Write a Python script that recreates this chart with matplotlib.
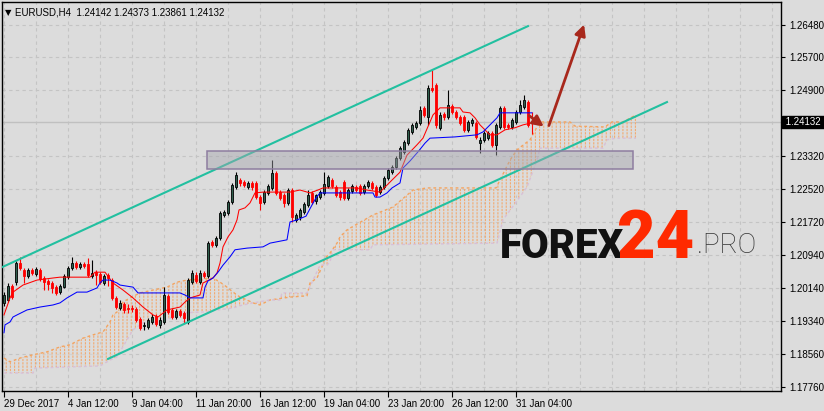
import numpy as np
import matplotlib.pyplot as plt
from matplotlib.patches import Rectangle, FancyArrowPatch
from matplotlib.transforms import blended_transform_factory

# EURUSD H4 candles (bar 0 = 29 Dec 2017)
opens = [1.1978, 1.1985, 1.2019, 1.2028, 1.2074, 1.2057, 1.2043, 1.2057, 1.2048, 1.2057,
         1.2038, 1.2031, 1.2026, 1.2016, 1.2004, 1.2016, 1.2040, 1.2062, 1.2074, 1.2065,
         1.2072, 1.2072, 1.2043, 1.2052, 1.2048, 1.2026, 1.2045, 1.2033, 1.1990, 1.1966,
         1.1975, 1.1966, 1.1966, 1.1963, 1.1939, 1.1922, 1.1920, 1.1932, 1.1946, 1.1925,
         1.1932, 1.1995, 1.1961, 1.1944, 1.1958, 1.1954, 1.1932, 1.2028, 1.2045, 1.2028,
         1.2050, 1.2043, 1.2125, 1.2118, 1.2134, 1.2190, 1.2195, 1.2221, 1.2257, 1.2274,
         1.2269, 1.2257, 1.2267, 1.2267, 1.2233, 1.2221, 1.2243, 1.2255, 1.2291, 1.2245,
         1.2238, 1.2219, 1.2250, 1.2178, 1.2185, 1.2197, 1.2214, 1.2243, 1.2224, 1.2233,
         1.2243, 1.2260, 1.2274, 1.2257, 1.2245, 1.2269, 1.2231, 1.2248, 1.2257, 1.2260,
         1.2245, 1.2260, 1.2267, 1.2257, 1.2245, 1.2257, 1.2279, 1.2293, 1.2305, 1.2327,
         1.2342, 1.2363, 1.2390, 1.2402, 1.2412, 1.2448, 1.2426, 1.2496, 1.2503, 1.2400,
         1.2433, 1.2426, 1.2453, 1.2438, 1.2426, 1.2426, 1.2395, 1.2412, 1.2412, 1.2363,
         1.2371, 1.2375, 1.2387, 1.2359, 1.2402, 1.2448, 1.2407, 1.2402, 1.2414, 1.2438,
         1.2450, 1.2462, 1.24142]
highs = [1.2004, 1.2026, 1.2024, 1.2079, 1.2089, 1.2062, 1.2062, 1.2062, 1.2065, 1.2062,
         1.2043, 1.2036, 1.2031, 1.2021, 1.2024, 1.2048, 1.2067, 1.2089, 1.2079, 1.2077,
         1.2077, 1.2086, 1.2081, 1.2057, 1.2052, 1.2048, 1.2050, 1.2038, 1.1995, 1.1985,
         1.1980, 1.1975, 1.1973, 1.1968, 1.1944, 1.1932, 1.1942, 1.1951, 1.1951, 1.1944,
         1.2016, 1.1999, 1.1966, 1.1963, 1.1963, 1.1958, 1.2038, 1.2057, 1.2052, 1.2057,
         1.2055, 1.2127, 1.2130, 1.2139, 1.2199, 1.2202, 1.2226, 1.2267, 1.2293, 1.2279,
         1.2274, 1.2272, 1.2272, 1.2272, 1.2238, 1.2250, 1.2264, 1.2322, 1.2296, 1.2250,
         1.2243, 1.2255, 1.2255, 1.2195, 1.2207, 1.2221, 1.2250, 1.2248, 1.2240, 1.2250,
         1.2293, 1.2286, 1.2279, 1.2262, 1.2250, 1.2274, 1.2255, 1.2264, 1.2262, 1.2264,
         1.2264, 1.2274, 1.2272, 1.2262, 1.2262, 1.2284, 1.2303, 1.2310, 1.2332, 1.2356,
         1.2371, 1.2400, 1.2412, 1.2416, 1.2453, 1.2453, 1.2503, 1.2539, 1.2508, 1.2438,
         1.2438, 1.2491, 1.2457, 1.2443, 1.2431, 1.2431, 1.2419, 1.2424, 1.2416, 1.2378,
         1.2392, 1.2392, 1.2392, 1.2412, 1.2453, 1.2453, 1.2412, 1.2424, 1.2443, 1.2467,
         1.2479, 1.2467, 1.24373]
lows = [1.1971, 1.1980, 1.1987, 1.2021, 1.2057, 1.2026, 1.2038, 1.2045, 1.2043, 1.2031,
        1.2009, 1.2009, 1.2002, 1.1997, 1.1999, 1.2014, 1.2036, 1.2057, 1.2060, 1.2060,
        1.2062, 1.2040, 1.2038, 1.2021, 1.2024, 1.2021, 1.2019, 1.1985, 1.1963, 1.1961,
        1.1954, 1.1954, 1.1956, 1.1932, 1.1913, 1.1913, 1.1915, 1.1927, 1.1922, 1.1918,
        1.1927, 1.1951, 1.1939, 1.1939, 1.1944, 1.1930, 1.1927, 1.2024, 1.2026, 1.2024,
        1.2038, 1.2038, 1.2113, 1.2113, 1.2130, 1.2185, 1.2190, 1.2216, 1.2252, 1.2260,
        1.2257, 1.2252, 1.2250, 1.2228, 1.2202, 1.2216, 1.2238, 1.2250, 1.2238, 1.2226,
        1.2209, 1.2214, 1.2173, 1.2173, 1.2178, 1.2192, 1.2209, 1.2216, 1.2216, 1.2228,
        1.2238, 1.2255, 1.2255, 1.2233, 1.2226, 1.2226, 1.2226, 1.2243, 1.2245, 1.2238,
        1.2240, 1.2255, 1.2250, 1.2233, 1.2240, 1.2252, 1.2274, 1.2289, 1.2301, 1.2322,
        1.2337, 1.2359, 1.2385, 1.2397, 1.2407, 1.2426, 1.2407, 1.2486, 1.2400, 1.2395,
        1.2419, 1.2421, 1.2433, 1.2421, 1.2407, 1.2390, 1.2390, 1.2404, 1.2373, 1.2339,
        1.2366, 1.2371, 1.2354, 1.2334, 1.2397, 1.2397, 1.2397, 1.2397, 1.2409, 1.2433,
        1.2445, 1.2402, 1.23861]
closes = [1.1997, 1.2019, 1.1992, 1.2074, 1.2062, 1.2043, 1.2057, 1.2050, 1.2060, 1.2036,
          1.2028, 1.2024, 1.2014, 1.2002, 1.2019, 1.2043, 1.2062, 1.2074, 1.2065, 1.2072,
          1.2067, 1.2045, 1.2050, 1.2045, 1.2028, 1.2043, 1.2038, 1.1990, 1.1968, 1.1978,
          1.1961, 1.1963, 1.1963, 1.1937, 1.1918, 1.1925, 1.1937, 1.1944, 1.1927, 1.1937,
          1.1997, 1.1956, 1.1944, 1.1958, 1.1949, 1.1942, 1.2033, 1.2050, 1.2031, 1.2050,
          1.2043, 1.2122, 1.2118, 1.2134, 1.2195, 1.2197, 1.2221, 1.2262, 1.2286, 1.2267,
          1.2262, 1.2267, 1.2257, 1.2233, 1.2219, 1.2245, 1.2260, 1.2291, 1.2243, 1.2231,
          1.2219, 1.2250, 1.2185, 1.2190, 1.2202, 1.2216, 1.2238, 1.2221, 1.2238, 1.2245,
          1.2264, 1.2281, 1.2260, 1.2238, 1.2233, 1.2231, 1.2250, 1.2260, 1.2250, 1.2243,
          1.2260, 1.2269, 1.2255, 1.2238, 1.2257, 1.2279, 1.2298, 1.2305, 1.2327, 1.2351,
          1.2366, 1.2395, 1.2407, 1.2412, 1.2443, 1.2431, 1.2496, 1.2491, 1.2407, 1.2431,
          1.2426, 1.2455, 1.2438, 1.2426, 1.2412, 1.2395, 1.2414, 1.2419, 1.2378, 1.2371,
          1.2387, 1.2387, 1.2359, 1.2407, 1.2448, 1.2402, 1.2402, 1.2419, 1.2438, 1.2455,
          1.2467, 1.2407, 1.24132]

# Ichimoku lines (bar index, price)
tenkan_x = [0, 1.5, 2.25, 4.75, 8.25, 12.25, 14, 21.5, 22.75, 25.25, 27.25, 29.75, 32.25, 34.75,
            37.25, 38.5, 40.75, 44, 45.25, 46.5, 49, 49.75, 52.25, 53.25, 54, 54.75, 56, 57.25,
            58.25, 58.75, 60.25, 61.5, 62.75, 64.75, 71.5, 74, 76.5, 78.5, 79.75, 88.25, 90.75,
            94, 95.25, 97, 99, 100.75, 103.25, 104.75, 107.25, 109, 114, 114.75, 116.5, 117.75,
            119, 120.75, 121.5, 123.25, 125.25, 127.75, 129.75, 132]
tenkan_y = [1.1949, 1.1990, 1.2004, 1.2021, 1.2033, 1.2038, 1.2040, 1.2040, 1.2052, 1.2052,
            1.2026, 1.2009, 1.1990, 1.1968, 1.1949, 1.1944, 1.1961, 1.1968, 1.1980, 1.1990,
            1.1997, 1.2026, 1.2038, 1.2050, 1.2074, 1.2113, 1.2137, 1.2154, 1.2178, 1.2202,
            1.2207, 1.2219, 1.2243, 1.2245, 1.2245, 1.2250, 1.2243, 1.2250, 1.2255, 1.2255,
            1.2250, 1.2245, 1.2257, 1.2274, 1.2293, 1.2334, 1.2359, 1.2375, 1.2431, 1.2448,
            1.2448, 1.2438, 1.2436, 1.2424, 1.2407, 1.2390, 1.2383, 1.2383, 1.2395, 1.2400,
            1.2407, 1.2412]
kijun_x = [0, 0.25, 1.5, 2.25, 3.25, 5.75, 9, 12.25, 14, 15.75, 18.25, 20.75, 23.25, 24, 24.75,
           26.5, 28.25, 29, 32.25, 33.5, 44, 45.25, 46.5, 49.75, 50.25, 51, 52.25, 53.5, 54.75,
           56.5, 57.75, 60.75, 64.75, 66.5, 70.75, 71.5, 73.25, 75.5, 77, 78, 79, 92.25, 92.75,
           94, 95.75, 97, 99, 99.75, 101.5, 103.5, 105.25, 106.5, 112.75, 118.25, 119.75, 121.5,
           123.25, 124, 132]
kijun_y = [1.1906, 1.1925, 1.1932, 1.1944, 1.1949, 1.1961, 1.1968, 1.1973, 1.1978, 1.1990,
           1.2004, 1.2004, 1.2014, 1.2026, 1.2033, 1.2033, 1.2026, 1.2021, 1.2016, 1.2002,
           1.2002, 1.1997, 1.1990, 1.1990, 1.2016, 1.2031, 1.2038, 1.2052, 1.2069, 1.2089,
           1.2106, 1.2110, 1.2113, 1.2122, 1.2130, 1.2173, 1.2178, 1.2187, 1.2214, 1.2231,
           1.2243, 1.2243, 1.2233, 1.2233, 1.2243, 1.2255, 1.2267, 1.2303, 1.2320, 1.2342,
           1.2363, 1.2375, 1.2378, 1.2383, 1.2390, 1.2407, 1.2424, 1.2436, 1.2436]
span_a_x = [0, 1.5, 4, 7.25, 10.75, 14, 16.5, 19.75, 22.25, 24.75, 26.5, 27.25, 28.25, 29.75,
            31.5, 34, 37.25, 40.75, 43.25, 45.75, 52.25, 54, 55.75, 57.25, 59, 60.75, 62.25, 64,
            66.5, 71.5, 75.75, 76.5, 78.25, 79.5, 80.25, 81.5, 83.25, 84, 85.75, 92.25, 97.25,
            102.25, 105.75, 123, 126.5, 128.25, 131.5, 133.25, 134, 141.5, 142.75, 150.25, 152,
            154.75, 158]
span_a_y = [1.1845, 1.1836, 1.1845, 1.1853, 1.1860, 1.1872, 1.1877, 1.1893, 1.1901, 1.1908,
            1.1932, 1.1949, 1.1956, 1.1980, 1.1990, 1.2002, 1.2009, 1.2016, 1.2028, 1.2033,
            1.2038, 1.2028, 1.2016, 1.2004, 1.1992, 1.1985, 1.1978, 1.1973, 1.1985, 1.1992,
            1.1995, 1.2026, 1.2038, 1.2065, 1.2086, 1.2098, 1.2122, 1.2137, 1.2154, 1.2190,
            1.2209, 1.2250, 1.2255, 1.2255, 1.2322, 1.2347, 1.2371, 1.2402, 1.2414, 1.2414,
            1.2404, 1.2402, 1.2414, 1.2414, 1.2431]
span_b_x = [0, 7.25, 7.75, 24, 26.5, 28.25, 30.75, 32.25, 34.75, 39, 42.25, 44.75, 49.75, 57.25,
            59.75, 62.25, 66.5, 69, 69.5, 75.75, 79, 80.75, 81.5, 82.25, 91.5, 92.25, 123.25,
            124.75, 130.75, 133.25, 134, 149.75, 150.75, 153.25, 158]
span_b_y = [1.1809, 1.1809, 1.1821, 1.1826, 1.1840, 1.1848, 1.1889, 1.1913, 1.1930, 1.1932,
            1.1944, 1.1954, 1.1956, 1.1966, 1.1973, 1.1978, 1.1985, 1.1985, 1.2002, 1.2002,
            1.2069, 1.2069, 1.2077, 1.2106, 1.2106, 1.2118, 1.2122, 1.2178, 1.2257, 1.2322,
            1.2351, 1.2351, 1.2371, 1.2375, 1.2375]

# trend channel, support zone, forecast arrows
upper_x, upper_y = [-0.5, 131], [1.2064, 1.2645]
lower_x, lower_y = [26, 165.75], [1.1843, 1.2462]
zone_x, zone_y = [50.75, 157.25], [1.2301, 1.2344]
arrow_short = [(130.75, 1.2433), (135.5, 1.2399)]
arrow_long = [(136, 1.2399), (145.25, 1.2655)]

price_ticks = [1.26480, 1.25700, 1.24900, 1.23320, 1.22520, 1.21720,
               1.20940, 1.20140, 1.19340, 1.18560, 1.17760]
last_price = 1.24132
time_pos = [0, 16, 32, 48, 64, 80, 96, 112, 128]
time_labels = ['29 Dec 2017', '4 Jan 12:00', '9 Jan 04:00', '11 Jan 20:00', '16 Jan 12:00',
               '19 Jan 04:00', '23 Jan 20:00', '26 Jan 12:00', '31 Jan 04:00']

BG = '#dcdcdc'
BULL = '#2f5e4c'
FONT = 'Liberation Sans'
plt.rcParams['hatch.linewidth'] = 0.8

fig = plt.figure(figsize=(8.24, 4.11), dpi=100, facecolor=BG)
ax = fig.add_axes([2/824, 20.3/411, 779/824, 388.7/411], facecolor=BG)
ax.set_xlim(-0.5, 194.25)
ax.set_ylim(1.17664, 1.27031)

# grid
for p in price_ticks:
    ax.axhline(p, color='#c4c4c4', lw=0.8, ls=(0, (3, 3)), zorder=0)
for b in range(0, 195, 8):
    ax.axvline(b, color='#c4c4c4', lw=0.8, ls=(0, (3, 3)), zorder=0)
ax.axhline(last_price, color='#c0c0c0', lw=1, zorder=0.5)

# cloud
cx = span_a_x + span_b_x[::-1]
cy = span_a_y + span_b_y[::-1]
ax.fill(cx, cy, facecolor='none', edgecolor='#f2aa70', hatch='||||', lw=0, zorder=1)
ax.fill(cx, cy, facecolor='none', edgecolor=BG, hatch='-----', lw=0, zorder=1.1)
ax.plot(span_a_x, span_a_y, color='#f4a460', lw=1, ls=(0, (2, 2)), zorder=1.2)
ax.plot(span_b_x, span_b_y, color='#d8bfd8', lw=1, ls=(0, (2, 2)), zorder=1.2)

# candles
x = np.arange(len(opens))
o, h, l, c = map(np.array, (opens, highs, lows, closes))
up = c >= o
ax.vlines(x[up], l[up], h[up], color='black', lw=0.8, zorder=2)
ax.vlines(x[~up], l[~up], h[~up], color='red', lw=0.8, zorder=2)
ax.bar(x[up], c[up] - o[up], bottom=o[up], width=0.62, color=BULL, edgecolor='black',
       lw=0.6, zorder=3)
ax.bar(x[~up], c[~up] - o[~up], bottom=o[~up], width=0.62, color='red', edgecolor='red',
       lw=0.6, zorder=3)

ax.plot(tenkan_x, tenkan_y, color='red', lw=0.75, zorder=4)
ax.plot(kijun_x, kijun_y, color='blue', lw=0.75, zorder=4)

# channel and zone
ax.plot(upper_x, upper_y, color='#22c0a0', lw=1.5, zorder=5)
ax.plot(lower_x, lower_y, color='#22c0a0', lw=1.5, zorder=5)
ax.add_patch(Rectangle((zone_x[0], zone_y[0]), zone_x[1] - zone_x[0], zone_y[1] - zone_y[0],
                       facecolor='#a4a4ac', alpha=0.45, edgecolor='none', zorder=6))
ax.add_patch(Rectangle((zone_x[0], zone_y[0]), zone_x[1] - zone_x[0], zone_y[1] - zone_y[0],
                       facecolor='none', edgecolor='#8e7ea0', lw=1.1, zorder=6))

for a in (arrow_short, arrow_long):
    ax.add_patch(FancyArrowPatch(a[0], a[1], arrowstyle='-|>', mutation_scale=16,
                                 color='#a8281c', lw=2, zorder=7))

# axes styling
for s in ax.spines.values():
    s.set_color('black')
    s.set_linewidth(1)
ax.yaxis.tick_right()
ax.set_yticks(price_ticks)
ax.set_yticklabels(['%.5f' % p for p in price_ticks], fontsize=7, family=FONT)
ax.tick_params(axis='y', length=3, pad=3, colors='black')
ax.set_xticks(time_pos)
ax.set_xticklabels(time_labels, fontsize=7, ha='left', family=FONT)
ax.tick_params(axis='x', length=4, pad=2, colors='black')

tr = blended_transform_factory(ax.transAxes, ax.transData)
ax.text(1.0025, last_price, ' %.5f ' % last_price, transform=tr, fontsize=7, family=FONT,
        color='white', va='center', ha='left',
        bbox=dict(boxstyle='square,pad=0.12', facecolor='black', edgecolor='black'))

ax.text(0.004, 0.985, '\u25bc', transform=ax.transAxes, fontsize=6, va='top', ha='left')
ax.text(0.017, 0.987, 'EURUSD,H4  1.24142 1.24373 1.23861 1.24132', transform=ax.transAxes,
        fontsize=7, family=FONT, va='top', ha='left')

# watermark
fig.text(500/824, 1 - 258/411, 'FOREX', fontsize=29, fontweight='black', family='Roboto',
         color='#111111', ha='left', va='baseline')
fig.text(617/824, 1 - 258/411, '24', fontsize=48, fontweight='black', family='Roboto',
         color='#ff2a00', ha='left', va='baseline')
fig.text(697/824, 1 - 253/411, '.PRO', fontsize=20, fontweight='light', family='Roboto',
         color='#333333', ha='left', va='baseline')

fig.savefig('out.png', dpi=100, facecolor=BG)
